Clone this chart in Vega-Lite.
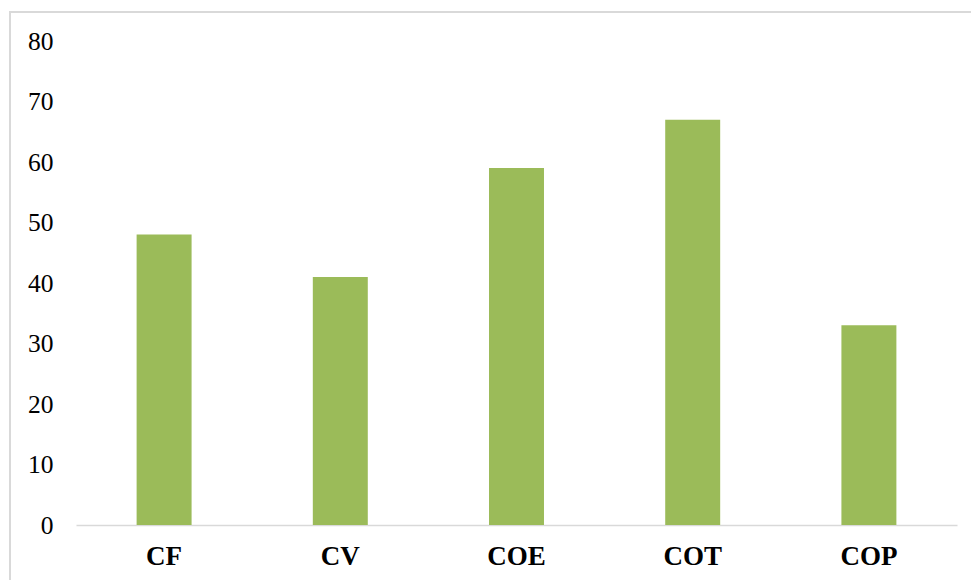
{
  "$schema": "https://vega.github.io/schema/vega-lite/v6.json",
  "autosize": {"type": "none"},
  "padding": {"left": 10, "top": 12, "right": -2, "bottom": -2},
  "width": 963,
  "height": 570,
  "background": "white",
  "config": {
    "view": {"stroke": "#d9d9d9", "strokeWidth": 2},
    "font": "'Times New Roman', 'Liberation Serif', serif"
  },
  "data": {
    "values": [
      {"category": "CF", "value": 48},
      {"category": "CV", "value": 41},
      {"category": "COE", "value": 59},
      {"category": "COT", "value": 67},
      {"category": "COP", "value": 33}
    ]
  },
  "mark": {"type": "bar", "color": "#9bbb59"},
  "encoding": {
    "x": {
      "field": "category",
      "type": "nominal",
      "sort": null,
      "scale": {"range": [66, 947], "paddingInner": 0.688, "paddingOuter": 0.344},
      "axis": {
        "title": null,
        "labelAngle": 0,
        "offset": -57,
        "ticks": false,
        "tickSize": 0,
        "labelPadding": 18,
        "labelBaseline": "top",
        "labelFont": "'Times New Roman', 'Liberation Serif', serif",
        "labelFontSize": 27,
        "labelFontWeight": "bold",
        "labelColor": "#000000",
        "domainColor": "#d9d9d9",
        "domainWidth": 1.5
      }
    },
    "y": {
      "field": "value",
      "type": "quantitative",
      "scale": {"domain": [0, 80], "nice": false, "range": [513, 29]},
      "axis": {
        "title": null,
        "values": [0, 10, 20, 30, 40, 50, 60, 70, 80],
        "grid": false,
        "domain": false,
        "ticks": false,
        "tickSize": 0,
        "offset": -43,
        "labelPadding": 0,
        "labelFont": "'Times New Roman', 'Liberation Serif', serif",
        "labelFontSize": 25.5,
        "labelColor": "#000000",
        "labelAlign": "right",
        "labelBaseline": "middle"
      }
    }
  }
}
